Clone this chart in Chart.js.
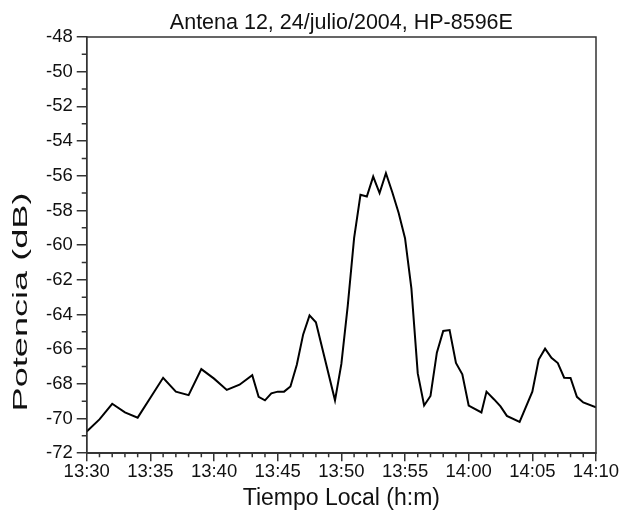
<!DOCTYPE html>
<html>
<head>
<meta charset="utf-8">
<script src="https://cdn.jsdelivr.net/npm/chart.js@4"></script>
<style>
  html, body { margin: 0; padding: 0; background: #fff; overflow: hidden; }
  canvas { display: block; }
</style>
</head>
<body>
<canvas id="c" width="622" height="522"></canvas>
<script>
// Minutes after 13:30 local time
const minutes = [0,1,2,3,4,5,6,7,8,9,10,11,12,13,13.5,14,14.5,15,15.5,16,16.5,17,17.5,18,19.5,20,20.5,21,21.5,22,22.5,23,23.5,24,24.5,25,25.5,26,26.5,27,27.5,28,28.5,29,29.5,30,31,31.4,32,32.5,33,34,35,35.5,36,36.5,37,37.5,38,38.5,39,40];
// Power (dB)
const power = [-70.75,-70.05,-69.15,-69.65,-69.95,-68.8,-67.65,-68.45,-68.65,-67.15,-67.7,-68.35,-68.05,-67.5,-68.75,-68.95,-68.55,-68.45,-68.45,-68.15,-66.9,-65.15,-64.05,-64.45,-68.95,-66.85,-63.5,-59.6,-57.1,-57.2,-56.05,-57.0,-55.85,-56.95,-58.15,-59.6,-62.5,-67.4,-69.25,-68.7,-66.2,-64.95,-64.9,-66.8,-67.45,-69.25,-69.65,-68.45,-68.9,-69.3,-69.85,-70.2,-68.45,-66.6,-65.97,-66.5,-66.8,-67.65,-67.66,-68.75,-69.07,-69.35];
const xMajorTicks = [0,5,10,15,20,25,30,35,40];
const yMajorTicks = [-72,-70,-68,-66,-64,-62,-60,-58,-56,-54,-52,-50,-48];
const titleText = 'Antena 12, 24/julio/2004, HP-8596E';
const xTitle = 'Tiempo Local (h:m)';
const yTitle = 'Potencia (dB)';

const FONT = '"Liberation Sans", Arial, sans-serif';
const AXIS = '#333';

function fmtTime(v) {
  const t = 13 * 60 + 30 + v;
  const h = Math.floor(t / 60);
  const m = Math.round(t % 60);
  return h + ':' + String(m).padStart(2, '0');
}

const decor = {
  id: 'decor',
  afterDraw(chart) {
    const ctx = chart.ctx;
    const a = chart.chartArea;
    const xs = chart.scales.x, ys = chart.scales.y;
    ctx.save();
    ctx.strokeStyle = AXIS;
    ctx.lineWidth = 1.5;
    ctx.strokeRect(a.left, a.top, a.right - a.left, a.bottom - a.top);
    ctx.beginPath();
    for (let v = xs.min; v <= xs.max; v += 1) {
      if (v % 5 === 0) continue;
      const px = xs.getPixelForValue(v);
      ctx.moveTo(px, a.bottom);
      ctx.lineTo(px, a.bottom + 4);
    }
    for (let v = ys.min; v <= ys.max; v += 1) {
      if (v % 2 === 0) continue;
      const py = ys.getPixelForValue(v);
      ctx.moveTo(a.left, py);
      ctx.lineTo(a.left - 5, py);
    }
    ctx.stroke();
    ctx.fillStyle = '#111';
    // chart title, centred over the plot area
    ctx.font = '21.5px ' + FONT;
    ctx.textAlign = 'center';
    ctx.textBaseline = 'alphabetic';
    ctx.fillText(titleText, (a.left + a.right) / 2, 29);
    // y title (stretched along baseline as in reference)
    ctx.font = '21px ' + FONT;
    ctx.textBaseline = 'middle';
    ctx.translate(21, 302);
    ctx.rotate(-Math.PI / 2);
    ctx.scale(1.72, 1);
    ctx.fillText(yTitle, 0, 0);
    ctx.restore();
  }
};

new Chart(document.getElementById('c'), {
  type: 'line',
  data: {
    datasets: [{
      data: minutes.map((m, i) => ({ x: m, y: power[i] })),
      borderColor: '#000',
      borderWidth: 2,
      pointRadius: 0,
      tension: 0,
      fill: false
    }]
  },
  options: {
    responsive: false,
    animation: false,
    devicePixelRatio: 1,
    layout: { padding: { left: 42, right: 26, top: 37, bottom: 10 } },
    plugins: {
      legend: { display: false },
      tooltip: { enabled: false },
      title: { display: false }
    },
    scales: {
      x: {
        type: 'linear',
        min: 0, max: 40,
        afterBuildTicks: (s) => { s.ticks = xMajorTicks.map(v => ({ value: v })); },
        ticks: {
          callback: (v) => fmtTime(v),
          color: '#111',
          font: { family: FONT, size: 18.5 },
          padding: 0,
          maxRotation: 0,
          autoSkip: false
        },
        grid: { drawOnChartArea: false, drawTicks: true, tickLength: 8, color: AXIS, lineWidth: 1.5 },
        border: { display: true, color: AXIS, width: 1.5 },
        title: {
          display: true,
          text: xTitle,
          color: '#111',
          font: { family: FONT, size: 23 },
          padding: { top: 1, bottom: 0 }
        }
      },
      y: {
        type: 'linear',
        min: -72, max: -48,
        afterBuildTicks: (s) => { s.ticks = yMajorTicks.map(v => ({ value: v })); },
        ticks: {
          color: '#111',
          font: { family: FONT, size: 18.5 },
          padding: 4,
          autoSkip: false
        },
        grid: { drawOnChartArea: false, drawTicks: true, tickLength: 10, color: AXIS, lineWidth: 1.5 },
        border: { display: true, color: AXIS, width: 1.5 }
      }
    }
  },
  plugins: [decor]
});
</script>
</body>
</html>
